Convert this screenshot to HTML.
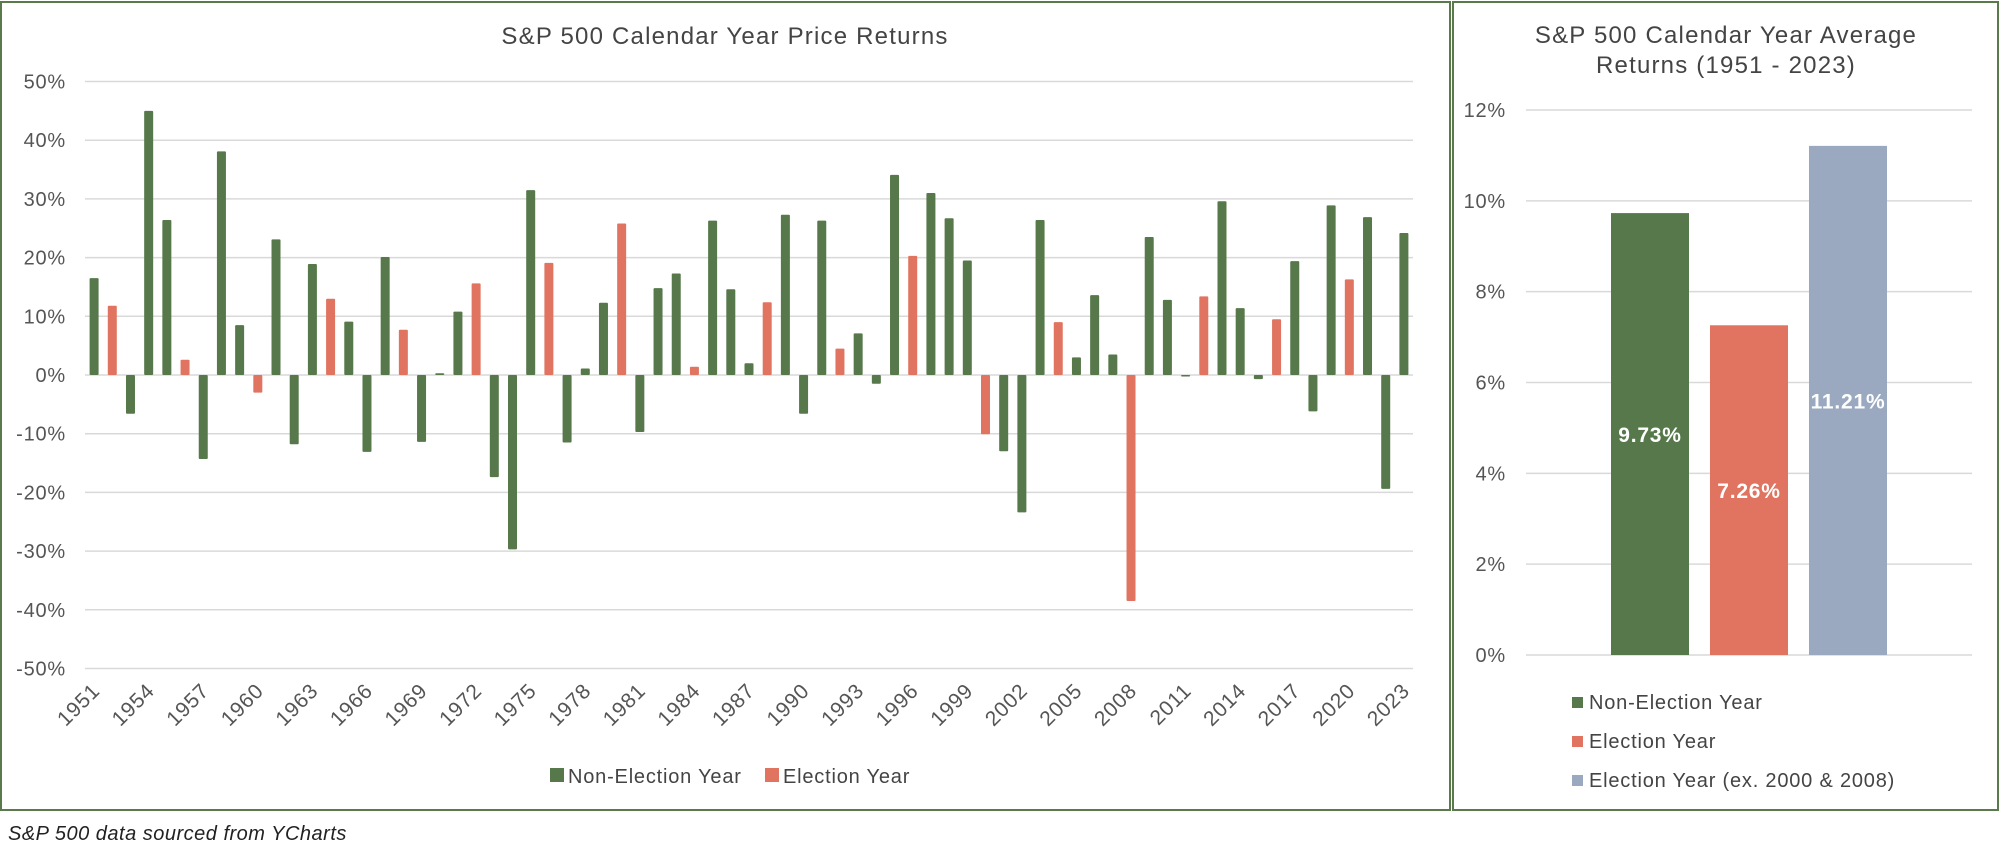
<!DOCTYPE html>
<html><head><meta charset="utf-8"><style>
html,body{margin:0;padding:0;background:#fff;}
svg{display:block;font-family:"Liberation Sans",sans-serif;}
</style></head><body>
<svg id="c" width="2000" height="852" viewBox="0 0 2000 852">
<rect x="1" y="2" width="1449" height="808" fill="none" stroke="#5a7a4c" stroke-width="2"/>
<rect x="1453" y="2" width="545" height="808" fill="none" stroke="#5a7a4c" stroke-width="2"/>
<text x="725" y="44" text-anchor="middle" font-size="24" letter-spacing="1.2" fill="#444">S&amp;P 500 Calendar Year Price Returns</text>
<text x="1726" y="43" text-anchor="middle" font-size="24" letter-spacing="1.2" fill="#444">S&amp;P 500 Calendar Year Average</text>
<text x="1726" y="73" text-anchor="middle" font-size="24" letter-spacing="1.2" fill="#444">Returns (1951 - 2023)</text>
<g id="L"></g><g id="R"></g>
<rect x="550" y="768" width="14" height="14" fill="#56784a"/>
<text x="568" y="783" font-size="20" letter-spacing="0.8" fill="#444">Non-Election Year</text>
<rect x="765" y="768" width="14" height="14" fill="#e07460"/>
<text x="783" y="783" font-size="20" letter-spacing="0.8" fill="#444">Election Year</text>
<rect x="1572" y="697" width="11" height="11" fill="#56784a"/>
<text x="1589" y="709" font-size="20" letter-spacing="0.8" fill="#444">Non-Election Year</text>
<rect x="1572" y="736" width="11" height="11" fill="#e07460"/>
<text x="1589" y="748" font-size="20" letter-spacing="0.8" fill="#444">Election Year</text>
<rect x="1572" y="775" width="11" height="11" fill="#9aa9c0"/>
<text x="1589" y="787" font-size="20" letter-spacing="0.8" fill="#444">Election Year (ex. 2000 &amp; 2008)</text>
<text x="8" y="840" font-size="20" font-style="italic" letter-spacing="0.5" fill="#222">S&amp;P 500 data sourced from YCharts</text>
</svg>
<script>
const years=[1951,1952,1953,1954,1955,1956,1957,1958,1959,1960,1961,1962,1963,1964,1965,1966,1967,1968,1969,1970,1971,1972,1973,1974,1975,1976,1977,1978,1979,1980,1981,1982,1983,1984,1985,1986,1987,1988,1989,1990,1991,1992,1993,1994,1995,1996,1997,1998,1999,2000,2001,2002,2003,2004,2005,2006,2007,2008,2009,2010,2011,2012,2013,2014,2015,2016,2017,2018,2019,2020,2021,2022,2023];
const returns=[16.5,11.8,-6.6,45.0,26.4,2.6,-14.3,38.1,8.5,-3.0,23.1,-11.8,18.9,13.0,9.1,-13.1,20.1,7.7,-11.4,0.3,10.8,15.6,-17.4,-29.7,31.5,19.1,-11.5,1.1,12.3,25.8,-9.7,14.8,17.3,1.4,26.3,14.6,2.0,12.4,27.3,-6.6,26.3,4.5,7.1,-1.5,34.1,20.3,31.0,26.7,19.5,-10.1,-13.0,-23.4,26.4,9.0,3.0,13.6,3.5,-38.5,23.5,12.8,0.0,13.4,29.6,11.4,-0.7,9.5,19.4,-6.2,28.9,16.3,26.9,-19.4,24.2];
const leftTicks=[50,40,30,20,10,0,-10,-20,-30,-40,-50];
const avgCats=["Non-Election Year","Election Year","Election Year (ex. 2000 & 2008)"];
const avgValues=[9.73,7.26,11.21];
const avgLabels=["9.73%","7.26%","11.21%"];
const rightTicks=[0,2,4,6,8,10,12];
const NS="http://www.w3.org/2000/svg";
function mk(tag,attrs,parent,txt){const e=document.createElementNS(NS,tag);for(const k in attrs)e.setAttribute(k,attrs[k]);if(txt!==undefined)e.textContent=txt;parent.appendChild(e);return e;}
const L=document.getElementById('L'),R=document.getElementById('R');
const lx0=85,lx1=1413,band=(lx1-lx0)/years.length;
const ly=v=>375-v*5.87;
const lx=i=>lx0+band*(i+0.5);
leftTicks.forEach(t=>{
 const g=mk('line',{x1:lx0,x2:lx1,y1:ly(t),y2:ly(t),stroke:'#d9d9d9','stroke-width':1.5},L);
 
 
 const tx=mk('text',{x:66,y:ly(t)+7,'text-anchor':'end','font-size':20,'letter-spacing':0.8,fill:'#555'},L,t+'%');
 
 
});
returns.forEach((v,i)=>{
 const el=years[i]%4===0;
 const y0=ly(Math.max(v,0)),h=Math.max(Math.abs(ly(v)-ly(0)),1.5);
 const r=mk('rect',{x:lx(i)-4.5,y:y0,width:9,height:h,fill:el?'#e07460':'#56784a',rx:1},L);
 
 
});
years.forEach((yr,i)=>{
 if((yr-1951)%3!==0)return;
 const x=lx(i)+7;
 const t=mk('text',{x:x,y:692,'text-anchor':'end','font-size':21,'letter-spacing':0.8,fill:'#555',transform:`rotate(-45 ${x} 692)`},L,yr);
 
 
});
const rx0=1526,rx1=1972;
const ry=v=>655-v*(545/12);
rightTicks.forEach(t=>{
 const g=mk('line',{x1:rx0,x2:rx1,y1:ry(t),y2:ry(t),stroke:'#d9d9d9','stroke-width':1.5},R);
 
 
 const tx=mk('text',{x:1506,y:ry(t)+7,'text-anchor':'end','font-size':20,'letter-spacing':0.8,fill:'#555'},R,t+'%');
 
 
});
const colors=['#56784a','#e07460','#9aa9c0'];
const rband=99,rstart=1601;
avgValues.forEach((v,i)=>{
 const x=rstart+i*rband+10;
 const b=mk('rect',{x:x,y:ry(v),width:78,height:ry(0)-ry(v),fill:colors[i]},R);
 
 
 const t=mk('text',{x:x+39,y:(ry(v)+ry(0))/2+8,'text-anchor':'middle','font-size':21,'font-weight':'bold','letter-spacing':0.8,fill:'#fff'},R,avgLabels[i]);
 
 
});
</script>
</body></html>
